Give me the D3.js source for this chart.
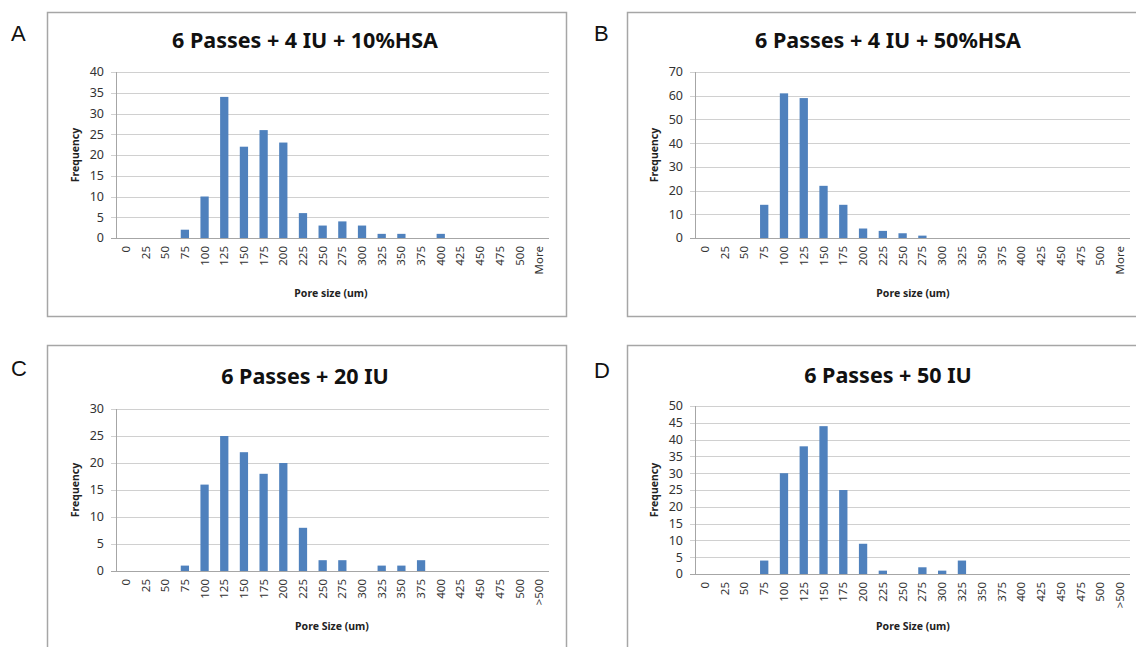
<!DOCTYPE html>
<html>
<head>
<meta charset="utf-8">
<script src="https://cdn.jsdelivr.net/npm/d3@7"></script>
<style>
  body { margin: 0; background: #fff; }
  svg { display: block; }
</style>
</head>
<body>
<script>
// pore size bins (x categories)
const binsTop = ["0","25","50","75","100","125","150","175","200","225","250","275","300","325","350","375","400","425","450","475","500","More"];
const binsBottom = ["0","25","50","75","100","125","150","175","200","225","250","275","300","325","350","375","400","425","450","475","500",">500"];

// frequencies
const freqA = [0,0,0,2,10,34,22,26,23,6,3,4,3,1,1,0,1,0,0,0,0,0];
const freqB = [0,0,0,14,61,59,22,14,4,3,2,1,0,0,0,0,0,0,0,0,0,0];
const freqC = [0,0,0,1,16,25,22,18,20,8,2,2,0,1,1,2,0,0,0,0,0,0];
const freqD = [0,0,0,4,30,38,44,25,9,1,0,2,1,4,0,0,0,0,0,0,0,0];

// y tick labels
const ticksA = [0,5,10,15,20,25,30,35,40];
const ticksB = [0,10,20,30,40,50,60,70];
const ticksC = [0,5,10,15,20,25,30];
const ticksD = [0,5,10,15,20,25,30,35,40,45,50];

const titles = ["6 Passes + 4 IU + 10%HSA", "6 Passes + 4 IU + 50%HSA", "6 Passes + 20 IU", "6 Passes + 50 IU"];
const xTitles = ["Pore size (um)", "Pore size (um)", "Pore Size (um)", "Pore Size (um)"];
const letters = ["A", "B", "C", "D"];

const w = 1136;
const h = 647;
const svg = d3.select("body").append("svg").attr("width", w).attr("height", h);

const font = "'Noto Sans', sans-serif";
const barColor = "#4f81bd";

const drawPanel = function (cfg) {
  const g = svg.append("g");

  // outer frame
  g.append("rect")
    .attr("x", cfg.frame[0] + 0.5)
    .attr("y", cfg.frame[1] + 0.5)
    .attr("width", cfg.frame[2])
    .attr("height", cfg.frame[3])
    .style("fill", "none")
    .style("stroke", "#a6a6a6")
    .style("stroke-width", 1.5);

  // panel letter
  g.append("text")
    .text(cfg.letter)
    .attr("x", cfg.letterPos[0])
    .attr("y", cfg.letterPos[1])
    .style("font-family", "'Liberation Sans', Arial, sans-serif")
    .style("font-size", "22px")
    .style("fill", "#111");

  const x = d3.scaleBand().domain(cfg.cats).range([cfg.left, cfg.right]).paddingInner(0).paddingOuter(0);
  const y = d3.scaleLinear().domain([0, d3.max(cfg.ticks)]).range([cfg.bottom, cfg.top]);

  // gridlines
  g.selectAll(".grid")
    .data(cfg.ticks)
    .enter()
    .append("line")
    .attr("x1", cfg.left - 5)
    .attr("x2", cfg.right)
    .attr("y1", function (d) { return Math.round(y(d)) + 0.5; })
    .attr("y2", function (d) { return Math.round(y(d)) + 0.5; })
    .style("stroke", function (d) { return d === 0 ? "#a6a6a6" : "#d0d0d0"; })
    .style("stroke-width", 1.2);

  // y axis line
  g.append("line")
    .attr("x1", cfg.left + 0.5)
    .attr("x2", cfg.left + 0.5)
    .attr("y1", cfg.top)
    .attr("y2", cfg.bottom + 0.5)
    .style("stroke", "#a6a6a6");

  // y tick labels
  g.selectAll(".ytick")
    .data(cfg.ticks)
    .enter()
    .append("text")
    .text(function (d) { return d; })
    .attr("x", cfg.left - 12)
    .attr("y", function (d) { return y(d); })
    .attr("dy", "0.35em")
    .attr("text-anchor", "end")
    .style("font-family", font)
    .style("font-size", "12.5px")
    .style("fill", "#333");

  // bars
  const bw = x.bandwidth() * 0.42;
  g.selectAll(".bar")
    .data(cfg.values)
    .enter()
    .append("rect")
    .attr("x", function (d, i) { return x(cfg.cats[i]) + (x.bandwidth() - bw) / 2; })
    .attr("y", function (d) { return y(d); })
    .attr("width", bw)
    .attr("height", function (d) { return cfg.bottom - y(d); })
    .style("fill", barColor);

  // x tick labels, rotated
  g.selectAll(".xtick")
    .data(cfg.cats)
    .enter()
    .append("text")
    .text(function (d) { return d; })
    .attr("transform", function (d) {
      return `translate(${x(d) + x.bandwidth() / 2},${cfg.bottom + 8}) rotate(-90)`;
    })
    .attr("dy", "0.35em")
    .attr("text-anchor", "end")
    .style("font-family", font)
    .style("font-size", "11.5px")
    .style("fill", "#333");

  // chart title
  g.append("text")
    .text(cfg.title)
    .attr("x", cfg.titlePos[0])
    .attr("y", cfg.titlePos[1])
    .attr("text-anchor", "middle")
    .style("font-family", font)
    .style("font-weight", "bold")
    .style("font-size", "21.5px")
    .style("fill", "#111");

  // axis titles
  g.append("text")
    .text(cfg.xTitle)
    .attr("x", cfg.xTitlePos[0])
    .attr("y", cfg.xTitlePos[1])
    .attr("text-anchor", "middle")
    .style("font-family", font)
    .style("font-weight", "bold")
    .style("font-size", "10.5px")
    .style("fill", "#222");

  g.append("text")
    .text("Frequency")
    .attr("transform", `translate(${cfg.left - 41},${(cfg.top + cfg.bottom) / 2}) rotate(-90)`)
    .attr("dy", "0.35em")
    .attr("text-anchor", "middle")
    .style("font-family", font)
    .style("font-weight", "bold")
    .style("font-size", "10.5px")
    .style("fill", "#222");
};

drawPanel({
  letter: letters[0], letterPos: [11, 41], frame: [47, 12, 519, 304],
  cats: binsTop, values: freqA, ticks: ticksA,
  left: 116, right: 549, top: 72, bottom: 238,
  title: titles[0], titlePos: [305, 48], xTitle: xTitles[0], xTitlePos: [331, 297]
});
drawPanel({
  letter: letters[1], letterPos: [594, 41], frame: [627, 12, 530, 304],
  cats: binsTop, values: freqB, ticks: ticksB,
  left: 695, right: 1130, top: 72, bottom: 238,
  title: titles[1], titlePos: [888, 48], xTitle: xTitles[1], xTitlePos: [913, 297]
});
drawPanel({
  letter: letters[2], letterPos: [11, 376], frame: [47, 345, 519, 320],
  cats: binsBottom, values: freqC, ticks: ticksC,
  left: 116, right: 549, top: 409, bottom: 571,
  title: titles[2], titlePos: [305, 384], xTitle: xTitles[2], xTitlePos: [332, 630]
});
drawPanel({
  letter: letters[3], letterPos: [594, 378], frame: [627, 345, 530, 320],
  cats: binsBottom, values: freqD, ticks: ticksD,
  left: 695, right: 1130, top: 406, bottom: 574,
  title: titles[3], titlePos: [888, 383], xTitle: xTitles[3], xTitlePos: [913, 630]
});
</script>
</body>
</html>
